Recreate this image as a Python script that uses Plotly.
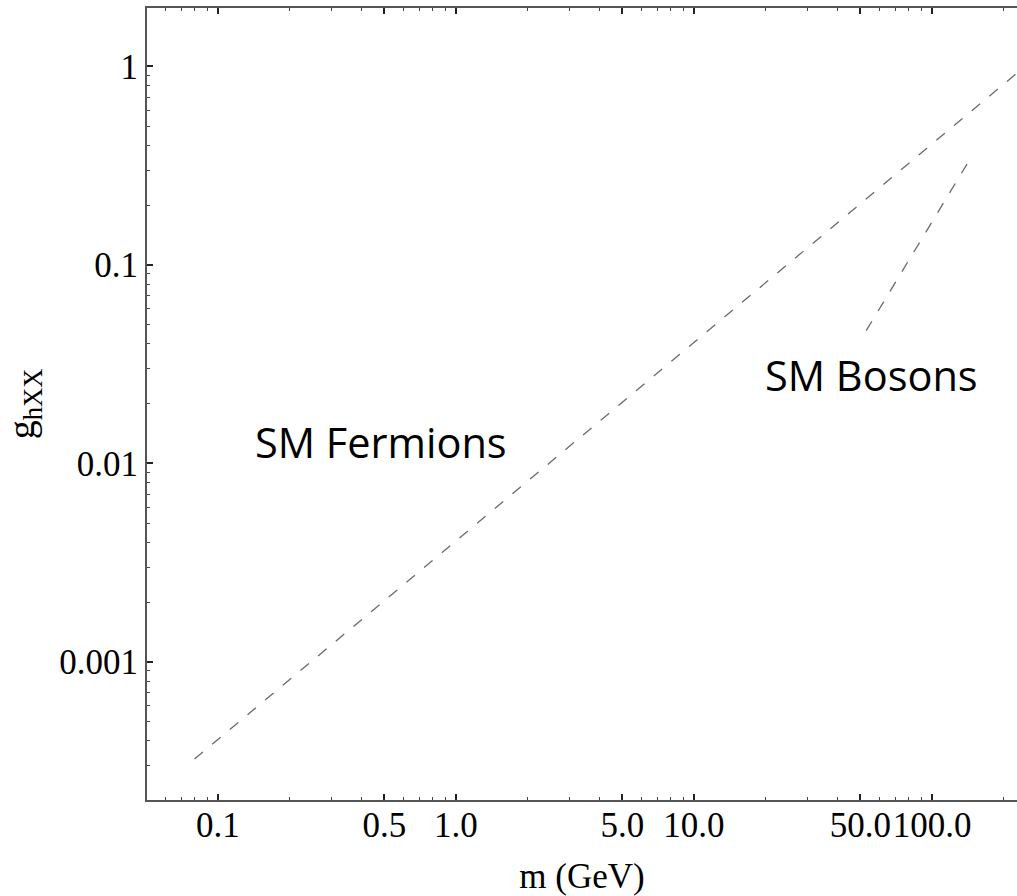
import plotly.graph_objects as go

# Data
fermion_m = [0.0797, 260.0]        # GeV
fermion_g = [3.24e-4, 1.057]
boson_m = [52.9, 140.3]            # GeV
boson_g = [0.0466, 0.322]

x_tickvals = [0.1, 0.5, 1.0, 5.0, 10.0, 50.0, 100.0]
x_ticktext = ["0.1", "0.5", "1.0", "5.0", "10.0", "50.0", "100.0"]
y_tickvals = [0.001, 0.01, 0.1, 1]
y_ticktext = ["0.001", "0.01", "0.1", "1"]

x_minor = [k * 10.0 ** e for e in range(-2, 3) for k in range(2, 10)]
y_minor = [k * 10.0 ** e for e in range(-4, 1) for k in range(2, 10)]

line_style = dict(color="#6a6a6a", width=1.3, dash="11px,12px")

fig = go.Figure()
fig.add_trace(go.Scatter(x=fermion_m, y=fermion_g, mode="lines", line=line_style,
                         showlegend=False, hoverinfo="skip"))
fig.add_trace(go.Scatter(x=boson_m, y=boson_g, mode="lines", line=line_style,
                         showlegend=False, hoverinfo="skip"))

serif = "Liberation Serif, Times New Roman, serif"
sans = "Open Sans, Noto Sans, sans-serif"

fig.add_annotation(x=0.269, y=0.452, xref="paper", yref="paper", text="SM Fermions",
                   showarrow=False, font=dict(family=sans, size=41.5, color="black"),
                   xanchor="center", yanchor="middle")
fig.add_annotation(x=0.8333, y=0.537, xref="paper", yref="paper", text="SM Bosons",
                   showarrow=False, font=dict(family=sans, size=41.5, color="black"),
                   xanchor="center", yanchor="middle")

axis_line = dict(showline=True, linecolor="#555555", linewidth=2, showgrid=False,
                 zeroline=False, ticks="inside", tickcolor="#222222", tickwidth=1.5,
                 ticklen=6, automargin=False, tickangle=0)

fig.update_xaxes(type="log", range=[-1.298, 2.357], tickmode="array",
                 tickvals=x_tickvals, ticktext=x_ticktext, mirror="allticks",
                 tickfont=dict(family=serif, size=35, color="black"),
                 ticklabelstandoff=-7,
                 minor=dict(tickmode="array", tickvals=x_minor, ticks="inside",
                            ticklen=3, tickcolor="#444444", tickwidth=1),
                 title=dict(text="m (GeV)", font=dict(family=serif, size=35, color="black"),
                            standoff=20),
                 **axis_line)
fig.update_yaxes(type="log", range=[-3.696, 0.294], tickmode="array",
                 tickvals=y_tickvals, ticktext=y_ticktext, mirror=False,
                 tickfont=dict(family=serif, size=35, color="black"),
                 minor=dict(tickmode="array", tickvals=y_minor, ticks="inside",
                            ticklen=3, tickcolor="#444444", tickwidth=1),
                 title=dict(text="g<sub>hXX</sub>", font=dict(family=serif, size=38, color="black"),
                            standoff=32),
                 **axis_line)

fig.update_layout(width=1017, height=896, margin=dict(l=147, r=0, t=8, b=96),
                  paper_bgcolor="white", plot_bgcolor="white")

fig.write_html("out.html")
